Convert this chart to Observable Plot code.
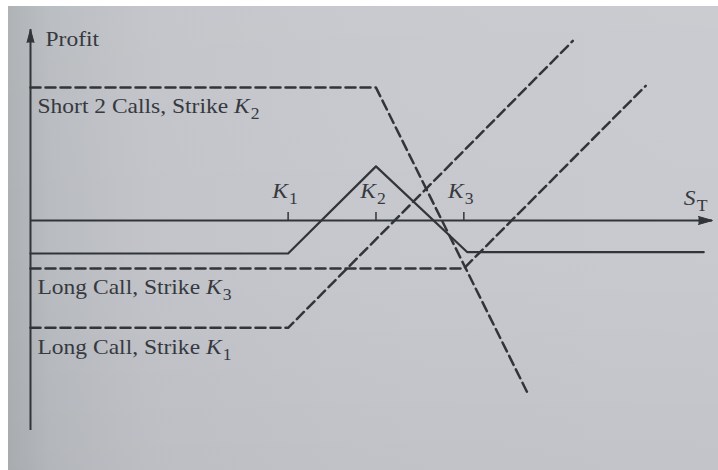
<!DOCTYPE html>
<html>
<head>
<meta charset="utf-8">
<script src="https://cdn.jsdelivr.net/npm/d3@7"></script>
<script src="https://cdn.jsdelivr.net/npm/@observablehq/plot@0.6"></script>
<style>
  html, body { margin: 0; padding: 0; background: #ffffff; }
  #paper {
    position: absolute; left: 8px; top: 6px; width: 710px; height: 464px;
    background:
      linear-gradient(180deg, rgba(255,255,255,0.03) 0%, rgba(0,0,0,0) 50%, rgba(0,0,0,0.03) 100%),
      linear-gradient(90deg, #adb1b4 0%, #b9bcc0 6%, #c2c4c9 20%, #c6c8cd 50%, #c8cacf 100%);
  }
  #chart { position: absolute; left: 0; top: 0; }
</style>
</head>
<body>
<div id="paper"></div>
<div id="chart"></div>
<script>
// Butterfly spread built from calls: profit at expiry against the stock price S_T.
const priceRange = [0.68, 78.3];
const profitRange = [-23.86, 21.7];

const strikes = [30, 40, 50];
const strikeLabels = ["K_1", "K_2", "K_3"];

// Each leg's profit line, as its corner points (S_T, profit).
const longK1S = [0.68, 30, 62.4];
const longK1P = [-12.2, -12.2, 20.4];
const longK3S = [0.68, 50, 70.7];
const longK3P = [-5.45, -5.45, 15.3];
const short2K2S = [0.68, 40, 57.4];
const short2K2P = [15.1, 15.1, -19.9];
const butterflyS = [0.68, 30, 40, 50.4, 77.3];
const butterflyP = [-3.75, -3.75, 6.15, -3.6, -3.6];

const legNames = ["Short 2 Calls, Strike K_2", "Long Call, Strike K_3", "Long Call, Strike K_1"];
const legLevels = [short2K2P[0], longK3P[0], longK1P[0]];
const axisTitle = "Profit";
const priceTitle = "S_T";

const ink = "#313439";
const textInk = "#36393f";
const points = (S, P) => S.map((s, i) => ({S: s, P: P[i]}));
const dashed = {x: "S", y: "P", stroke: ink, strokeWidth: 2.5, strokeDasharray: "10,5", curve: "linear"};

const chart = Plot.plot({
  width: 718,
  height: 470,
  marginLeft: 30,
  marginRight: 6,
  marginTop: 29,
  marginBottom: 40,
  x: {domain: priceRange, axis: null},
  y: {domain: profitRange, axis: null},
  style: {background: "transparent", fontFamily: "'Liberation Serif', 'DejaVu Serif', serif", fontSize: "21px", color: textInk},
  marks: [
    // axes with arrowheads
    Plot.ruleY([0], {stroke: ink, strokeWidth: 2}),
    Plot.ruleX([priceRange[0]], {stroke: ink, strokeWidth: 2}),
    Plot.vector([0], {x: () => priceRange[0], y: () => profitRange[1], length: 13, r: 3.5, rotate: 0,
      shape: "spike", anchor: "end", fill: ink, stroke: ink, strokeWidth: 1}),
    Plot.vector([0], {x: () => priceRange[1], y: () => 0, length: 14, r: 4, rotate: 90,
      shape: "spike", anchor: "end", fill: ink, stroke: ink, strokeWidth: 1}),
    // strike ticks
    Plot.ruleX(strikes, {x: d => d, y1: 0, y2: 0.9, stroke: ink, strokeWidth: 1.5}),
    // legs
    Plot.line(points(short2K2S, short2K2P), dashed),
    Plot.line(points(longK3S, longK3P), dashed),
    Plot.line(points(longK1S, longK1P), dashed),
    // the butterfly itself
    Plot.line(points(butterflyS, butterflyP), {x: "S", y: "P", stroke: ink, strokeWidth: 2.2}),
    // labels
    Plot.text([axisTitle], {x: () => priceRange[0], y: () => profitRange[1], text: d => d,
      dx: 15, dy: 10, textAnchor: "start", fill: textInk}),
    Plot.text(legNames, {x: () => priceRange[0], y: (d, i) => legLevels[i], text: d => d,
      dx: 7, dy: 19, textAnchor: "start", fill: textInk}),
    Plot.text(strikeLabels, {x: (d, i) => strikes[i], y: () => 0, text: d => d,
      dx: -3, dy: -29, textAnchor: "middle", fill: textInk}),
    Plot.text([priceTitle], {x: () => priceRange[1], y: () => 0, text: d => d,
      dx: -5, dy: -22, textAnchor: "end", fill: textInk})
  ]
});

// Typeset "X_n" as an italic letter with a subscript, and widen the serif face slightly.
d3.select(chart).selectAll("text").each(function() {
  const el = d3.select(this);
  const m = /^(.*?)([A-Z])_(\w)$/.exec(this.textContent);
  if (m) {
    el.text(m[1]);
    el.append("tspan").attr("font-style", "italic").text(m[2]);
    el.append("tspan").attr("font-size", "0.75em").attr("dx", "1").attr("dy", "6").text(m[3]);
  }
  const t = el.attr("transform") || "";
  const x = el.attr("x"), y = el.attr("y");
  if (x != null || y != null) {
    const px = +x || 0, py = +y || 0;
    el.attr("transform", `${t} translate(${px},${py}) scale(1.12,1) translate(${-px},${-py})`);
  } else {
    el.attr("transform", `${t} scale(1.12,1)`);
  }
});

document.getElementById("chart").append(chart);
</script>
</body>
</html>
